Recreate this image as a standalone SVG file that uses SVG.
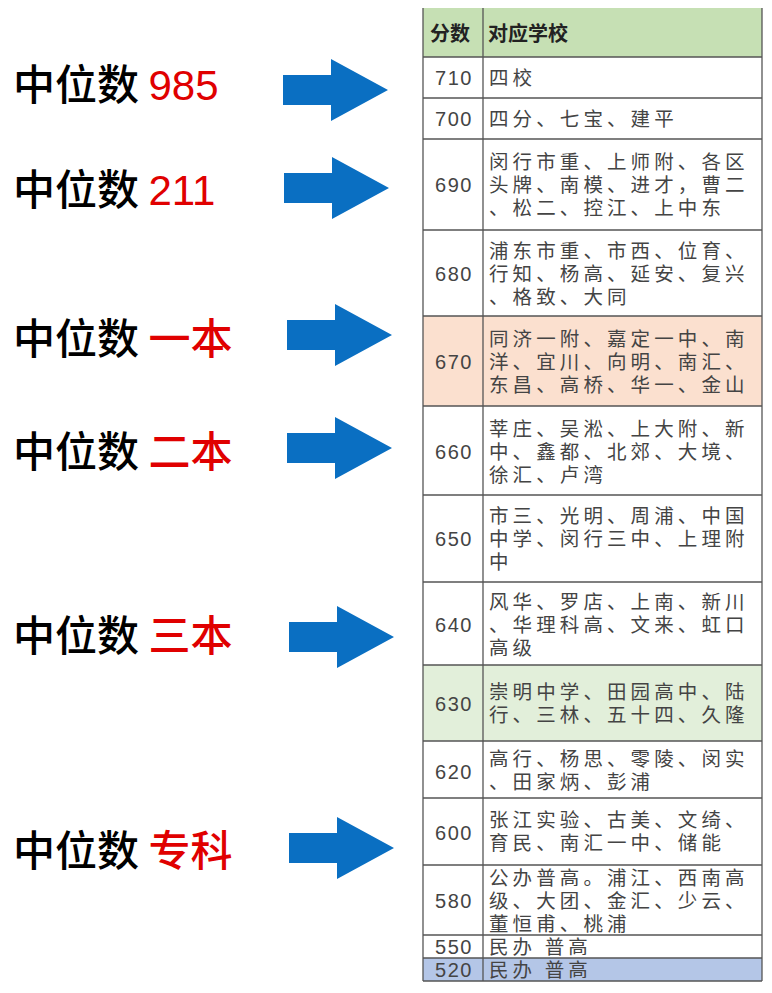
<svg xmlns="http://www.w3.org/2000/svg" width="772" height="993" viewBox="0 0 772 993">
<style>
.lb{font-family:"Noto Sans CJK SC",sans-serif;font-size:42px;fill:#000;font-weight:500}
.rd{fill:#e00000}
.num{font-family:"Liberation Sans",sans-serif;font-size:20px;fill:#444;text-anchor:middle;letter-spacing:1.5px}
.t{font-family:"Noto Sans CJK SC",sans-serif;font-size:19.5px;fill:#444;letter-spacing:4.1px}
.h{font-family:"Noto Sans CJK SC",sans-serif;font-size:20px;fill:#222;font-weight:bold}
.ln{stroke:#555;stroke-width:1.3}
.ar{fill:#0a6fc2}
</style>
<rect width="772" height="993" fill="#fff"/>
<g id="labels">
<text class="lb" x="13" y="100">中位数 <tspan class="rd" font-family="Liberation Sans" font-weight="normal">985</tspan></text>
<text class="lb" x="13" y="205">中位数 <tspan class="rd" font-family="Liberation Sans" font-weight="normal">211</tspan></text>
<text class="lb" x="13" y="354">中位数 <tspan class="rd">一本</tspan></text>
<text class="lb" x="13" y="467">中位数 <tspan class="rd">二本</tspan></text>
<text class="lb" x="13" y="651">中位数 <tspan class="rd">三本</tspan></text>
<text class="lb" x="13" y="866">中位数 <tspan class="rd">专科</tspan></text>
</g>
<g id="connectors">
<path class="ar" d="M283,75 h48 v-16 l57,31 l-57,31 v-16 h-48z"/>
<path class="ar" d="M284,173 h48 v-16 l57,31 l-57,31 v-16 h-48z"/>
<path class="ar" d="M287,320 h48 v-16 l57,31 l-57,31 v-16 h-48z"/>
<path class="ar" d="M287,433 h48 v-16 l57,31 l-57,31 v-16 h-48z"/>
<path class="ar" d="M289,622 h48 v-16 l57,31 l-57,31 v-16 h-48z"/>
<path class="ar" d="M289,833 h48 v-16 l57,31 l-57,31 v-16 h-48z"/>
</g>
<g id="table">
<rect x="423" y="8" width="339" height="49" fill="#c6e0b4"/>
<rect x="423" y="316" width="339" height="90" fill="#fbe0cf"/>
<rect x="423" y="665" width="339" height="76" fill="#e2efda"/>
<rect x="423" y="958" width="339" height="23" fill="#b4c6e7"/>
<g class="ln">
<line x1="423" y1="8" x2="423" y2="981"/><line x1="483" y1="8" x2="483" y2="981"/><line x1="762" y1="8" x2="762" y2="981"/>
<line x1="423" y1="57" x2="762" y2="57"/><line x1="423" y1="98" x2="762" y2="98"/><line x1="423" y1="139" x2="762" y2="139"/>
<line x1="423" y1="230" x2="762" y2="230"/><line x1="423" y1="316" x2="762" y2="316"/><line x1="423" y1="406" x2="762" y2="406"/>
<line x1="423" y1="495" x2="762" y2="495"/><line x1="423" y1="582" x2="762" y2="582"/><line x1="423" y1="665" x2="762" y2="665"/>
<line x1="423" y1="741" x2="762" y2="741"/><line x1="423" y1="798" x2="762" y2="798"/><line x1="423" y1="865" x2="762" y2="865"/>
<line x1="423" y1="935" x2="762" y2="935"/><line x1="423" y1="958" x2="762" y2="958"/><line x1="423" y1="981" x2="762" y2="981"/>
</g>
<text class="h" x="430" y="41">分数</text><text class="h" x="488" y="41">对应学校</text>
<text class="num" x="454" y="85">710</text><text class="t" x="489" y="85">四校</text>
<text class="num" x="454" y="126">700</text><text class="t" x="489" y="126">四分、七宝、建平</text>
<text class="num" x="454" y="192">690</text><text class="t" x="489" y="169">闵行市重、上师附、各区</text><text class="t" x="489" y="192">头牌、南模、进才，曹二</text><text class="t" x="489" y="215">、松二、控江、上中东</text>
<text class="num" x="454" y="281">680</text><text class="t" x="489" y="258">浦东市重、市西、位育、</text><text class="t" x="489" y="281">行知、杨高、延安、复兴</text><text class="t" x="489" y="304">、格致、大同</text>
<text class="num" x="454" y="369">670</text><text class="t" x="489" y="346">同济一附、嘉定一中、南</text><text class="t" x="489" y="369">洋、宜川、向明、南汇、</text><text class="t" x="489" y="392">东昌、高桥、华一、金山</text>
<text class="num" x="454" y="459">660</text><text class="t" x="489" y="436">莘庄、吴淞、上大附、新</text><text class="t" x="489" y="459">中、鑫都、北郊、大境、</text><text class="t" x="489" y="482">徐汇、卢湾</text>
<text class="num" x="454" y="546">650</text><text class="t" x="489" y="523">市三、光明、周浦、中国</text><text class="t" x="489" y="546">中学、闵行三中、上理附</text><text class="t" x="489" y="569">中</text>
<text class="num" x="454" y="632">640</text><text class="t" x="489" y="609">风华、罗店、上南、新川</text><text class="t" x="489" y="632">、华理科高、文来、虹口</text><text class="t" x="489" y="655">高级</text>
<text class="num" x="454" y="711">630</text><text class="t" x="489" y="699">崇明中学、田园高中、陆</text><text class="t" x="489" y="722">行、三林、五十四、久隆</text>
<text class="num" x="454" y="779">620</text><text class="t" x="489" y="766">高行、杨思、零陵、闵实</text><text class="t" x="489" y="789">、田家炳、彭浦</text>
<text class="num" x="454" y="840">600</text><text class="t" x="489" y="827">张江实验、古美、文绮、</text><text class="t" x="489" y="850">育民、南汇一中、储能</text>
<text class="num" x="454" y="908">580</text><text class="t" x="489" y="885">公办普高。浦江、西南高</text><text class="t" x="489" y="908">级、大团、金汇、少云、</text><text class="t" x="489" y="931">董恒甫、桃浦</text>
<text class="num" x="454" y="954">550</text><text class="t" x="489" y="954">民办 普高</text>
<text class="num" x="454" y="977">520</text><text class="t" x="489" y="977">民办 普高</text>
</g>
</svg>
